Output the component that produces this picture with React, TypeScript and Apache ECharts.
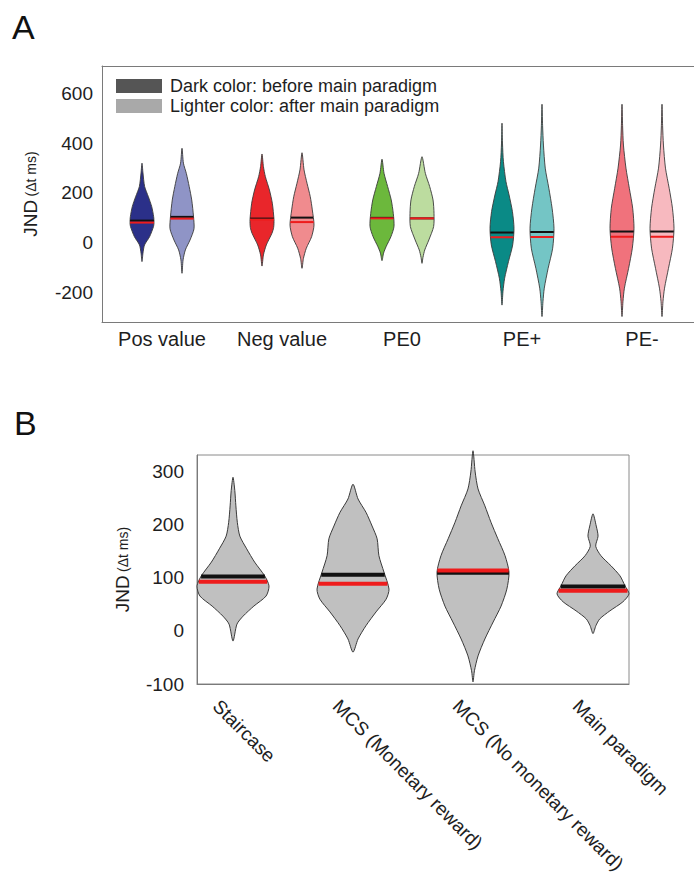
import React, { useEffect, useRef } from "react";
import * as echarts from "echarts";

type Pt = [number, number];

// ---------- Panel A data ----------
const groupsA = ["Pos value", "Neg value", "PE0", "PE+", "PE-"];
const legendLabels = ["Dark color: before main paradigm", "Lighter color: after main paradigm"];
const yTicksA = [-200, 0, 200, 400, 600];
const colorsBefore = ["#2b3089", "#e9262b", "#6cb83c", "#0a8a86", "#f0727c"];
const colorsAfter = ["#8f94c6", "#f08b8e", "#bcdc9f", "#74c5c5", "#f7b9bf"];
const meanBefore = [88, 96, 99, 40, 44];
const medianBefore = [80, 92, 97, 21, 23];
const meanAfter = [103, 100, 97, 42, 44];
const medianAfter = [96, 82, 97, 22, 23];

// violin outlines: [JND value, relative density]
const posBefore: Pt[] = [[319, 0], [280, 0.08], [225, 0.22], [184, 0.53], [144, 0.81], [104, 0.97], [80, 1], [64, 0.96], [23, 0.63], [-10, 0.21], [-43, 0.08], [-77, 0]];
const posAfter: Pt[] = [[379, 0], [319, 0.12], [278, 0.36], [225, 0.6], [171, 0.81], [104, 0.96], [55, 1], [10, 0.67], [-30, 0.28], [-70, 0.09], [-124, 0]];
const negBefore: Pt[] = [[356, 0], [305, 0.12], [265, 0.28], [211, 0.62], [158, 0.86], [91, 1], [60, 0.97], [37, 0.83], [-10, 0.36], [-50, 0.12], [-95, 0]];
const negAfter: Pt[] = [[361, 0], [292, 0.17], [238, 0.42], [184, 0.69], [131, 0.86], [70, 1], [23, 0.8], [-23, 0.36], [-64, 0.12], [-104, 0]];
const pe0Before: Pt[] = [[335, 0], [278, 0.17], [225, 0.47], [171, 0.77], [117, 0.94], [64, 1], [23, 0.74], [-17, 0.34], [-43, 0.13], [-73, 0]];
const pe0After: Pt[] = [[345, 0], [278, 0.28], [225, 0.64], [171, 0.92], [117, 1], [64, 0.97], [10, 0.57], [-30, 0.23], [-60, 0.08], [-84, 0]];
const pePlusBefore: Pt[] = [[480, 0], [400, 0.04], [325, 0.12], [245, 0.33], [191, 0.59], [124, 0.87], [57, 1], [-10, 0.89], [-77, 0.54], [-144, 0.22], [-198, 0.08], [-252, 0]];
const pePlusAfter: Pt[] = [[556, 0], [470, 0.05], [392, 0.12], [299, 0.27], [218, 0.57], [138, 0.84], [57, 1], [-23, 0.89], [-104, 0.51], [-184, 0.19], [-238, 0.08], [-298, 0]];
const peMinusBefore: Pt[] = [[556, 0], [470, 0.05], [392, 0.12], [299, 0.33], [218, 0.61], [138, 0.89], [57, 1], [-23, 0.86], [-104, 0.55], [-184, 0.2], [-238, 0.08], [-298, 0]];
const peMinusAfter: Pt[] = [[556, 0], [470, 0.05], [392, 0.12], [299, 0.29], [218, 0.6], [138, 0.87], [57, 1], [-23, 0.87], [-104, 0.54], [-184, 0.21], [-238, 0.08], [-298, 0]];

// ---------- Panel B data ----------
const categoriesB = ["Staircase", "MCS (Monetary reward)", "MCS (No monetary reward)", "Main paradigm"];
const yTicksB = [-100, 0, 100, 200, 300];
const meanB = [103, 106, 110, 84];
const medianB = [93, 89, 114, 76];
const staircase: Pt[] = [[290, 0], [265, 0.05], [236, 0.08], [205, 0.12], [179, 0.19], [155, 0.38], [130, 0.6], [104, 0.88], [85, 1], [66, 0.92], [47, 0.58], [28, 0.28], [13, 0.11], [-19, 0]];
const mcsMonetary: Pt[] = [[277, 0], [249, 0.14], [224, 0.36], [198, 0.53], [174, 0.67], [142, 0.72], [111, 0.86], [79, 1], [60, 0.92], [36, 0.64], [10, 0.36], [-15, 0.14], [-40, 0]];
const mcsNoMonetary: Pt[] = [[340, 0], [300, 0.06], [268, 0.14], [236, 0.33], [205, 0.5], [174, 0.69], [142, 0.89], [111, 1], [79, 0.94], [47, 0.78], [17, 0.56], [-15, 0.33], [-47, 0.14], [-75, 0.04], [-96, 0]];
const mainParadigm: Pt[] = [[221, 0], [198, 0.09], [179, 0.14], [160, 0.075], [142, 0.22], [123, 0.5], [104, 0.75], [85, 0.89], [70, 1], [55, 0.83], [38, 0.47], [23, 0.19], [10, 0.08], [-5, 0]];

const outlinesBefore = [posBefore, negBefore, pe0Before, pePlusBefore, peMinusBefore];
const outlinesAfter = [posAfter, negAfter, pe0After, pePlusAfter, peMinusAfter];
const outlinesB = [staircase, mcsMonetary, mcsNoMonetary, mainParadigm];

const FONT = "'Liberation Sans', Arial, Helvetica, sans-serif";

function densityAt(o: Pt[], v: number): number {
  for (let i = 0; i < o.length - 1; i++) {
    const [v0, d0] = o[i];
    const [v1, d1] = o[i + 1];
    if (v <= v0 && v >= v1) {
      const t = (v0 - v) / (v0 - v1 || 1);
      return d0 + (d1 - d0) * t;
    }
  }
  return 0;
}

function makeRender(outlines: Pt[][], fills: string[], half: number, lineW: number, strokeW: number) {
  return (params: any, api: any) => {
    const i = params.dataIndex;
    const x = api.value(0);
    const mean = api.value(1);
    const median = api.value(2);
    const o = outlines[i];
    const right = o.map(([v, d]) => api.coord([x + d * half, v]));
    const left = o
      .slice(1, o.length - 1)
      .reverse()
      .map(([v, d]) => api.coord([x - d * half, v]));
    const pts = right.concat(left);
    const mk = (v: number, color: string) => {
      const d = densityAt(o, v);
      const p0 = api.coord([x - d * half, v]);
      const p1 = api.coord([x + d * half, v]);
      return {
        type: "line",
        shape: { x1: p0[0], y1: p0[1], x2: p1[0], y2: p1[1] },
        style: { stroke: color, lineWidth: lineW },
      };
    };
    return {
      type: "group",
      children: [
        {
          type: "polygon",
          shape: { points: pts, smooth: 0.25 },
          style: { fill: fills[i], stroke: "#3a3a3a", lineWidth: strokeW },
        },
        mk(mean, "#111111"),
        mk(median, "#ee1c1c"),
      ],
    };
  };
}

const nameStyle = {
  color: "#1e1e1e",
  rich: {
    a: { fontSize: 19, fontFamily: FONT, color: "#1e1e1e" },
    b: { fontSize: 14, fontFamily: FONT, color: "#1e1e1e" },
  },
};

export default function App() {
  const ref = useRef<HTMLDivElement>(null);
  useEffect(() => {
    if (!ref.current) return;
    const chart = echarts.init(ref.current, undefined, { renderer: "svg" });

    const dataA: number[][] = [];
    const fillsA: string[] = [];
    const outlinesA: Pt[][] = [];
    groupsA.forEach((_, g) => {
      dataA.push([3 * g + 1, meanBefore[g], medianBefore[g]]);
      fillsA.push(colorsBefore[g]);
      outlinesA.push(outlinesBefore[g]);
      dataA.push([3 * g + 2, meanAfter[g], medianAfter[g]]);
      fillsA.push(colorsAfter[g]);
      outlinesA.push(outlinesAfter[g]);
    });
    const dataB = categoriesB.map((_, i) => [i + 1, meanB[i], medianB[i]]);
    const fillsB = categoriesB.map(() => "#c0c0c0");

    const labelStyle = { fontFamily: FONT, color: "#1e1e1e" };
    const lineStyle = { color: "#7a7a7a", width: 1 };

    chart.setOption({
      animation: false,
      backgroundColor: "#ffffff",
      textStyle: { fontFamily: FONT },
      grid: [
        { left: 102, top: 66, right: 0, height: 256, show: false },
        { left: 197, top: 455, width: 432, height: 229, show: true, borderColor: "#8a8a8a", borderWidth: 1 },
      ],
      xAxis: [
        {
          gridIndex: 0,
          type: "value",
          min: 0,
          max: 14.8,
          axisLine: { show: true, onZero: false, lineStyle },
          axisTick: { show: false },
          splitLine: { show: false },
          axisLabel: {
            ...labelStyle,
            customValues: groupsA.map((_, g) => 3 * g + 1.5),
            formatter: (v: number) => groupsA[Math.round((v - 1.5) / 3)] ?? "",
            fontSize: 20,
            margin: 7,
          },
        },
        {
          gridIndex: 0,
          type: "value",
          position: "top",
          min: 0,
          max: 14.8,
          axisLine: { show: true, onZero: false, lineStyle },
          axisTick: { show: false },
          splitLine: { show: false },
          axisLabel: { show: false },
        },
        {
          gridIndex: 1,
          type: "value",
          min: 0.7,
          max: 4.3,
          axisLine: { show: true, onZero: false, lineStyle },
          axisTick: { show: false },
          splitLine: { show: false },
          axisLabel: { show: false },
        },
        {
          gridIndex: 1,
          type: "value",
          position: "bottom",
          min: 0.84,
          max: 4.44,
          axisLine: { show: false },
          axisTick: { show: false },
          splitLine: { show: false },
          axisLabel: {
            ...labelStyle,
            customValues: categoriesB.map((_, i) => i + 1),
            formatter: (v: number) => categoriesB[Math.round(v) - 1] ?? "",
            rotate: -45,
            fontSize: 19,
            margin: 19,
          },
        },
      ],
      yAxis: [
        {
          gridIndex: 0,
          type: "value",
          min: -320,
          max: 710,
          axisLine: { show: true, onZero: false, lineStyle },
          axisTick: { show: false },
          splitLine: { show: false },
          axisLabel: { ...labelStyle, customValues: yTicksA, fontSize: 19, margin: 9 },
          name: "{a|JND} {b|(Δt ms)}",
          nameLocation: "middle",
          nameRotate: 90,
          nameGap: 62,
          nameTextStyle: nameStyle,
        },
        {
          gridIndex: 1,
          type: "value",
          min: -100,
          max: 332,
          axisLine: { show: true, onZero: false, lineStyle },
          axisTick: { show: false },
          splitLine: { show: false },
          axisLabel: { ...labelStyle, customValues: yTicksB, fontSize: 19, margin: 13 },
          name: "{a|JND} {b|(Δt ms)}",
          nameLocation: "middle",
          nameRotate: 90,
          nameGap: 65,
          nameTextStyle: nameStyle,
        },
      ],
      series: [
        {
          type: "custom",
          xAxisIndex: 0,
          yAxisIndex: 0,
          data: dataA,
          renderItem: makeRender(outlinesA, fillsA, 0.3, 2, 0.9),
        },
        {
          type: "custom",
          xAxisIndex: 2,
          yAxisIndex: 1,
          data: dataB,
          renderItem: makeRender(outlinesB, fillsB, 0.3, 4, 1),
        },
      ],
      graphic: [
        { type: "text", left: 12, top: 10, style: { text: "A", fontSize: 34, fontFamily: FONT, fill: "#111" } },
        { type: "text", left: 14, top: 406, style: { text: "B", fontSize: 34, fontFamily: FONT, fill: "#111" } },
        { type: "rect", shape: { x: 116, y: 79, width: 46, height: 14 }, style: { fill: "#555555" } },
        { type: "rect", shape: { x: 116, y: 99, width: 46, height: 14 }, style: { fill: "#a9a9a9" } },
        { type: "text", x: 170, y: 86, style: { text: legendLabels[0], fontSize: 18, fontFamily: FONT, fill: "#1e1e1e", verticalAlign: "middle" } },
        { type: "text", x: 170, y: 106, style: { text: legendLabels[1], fontSize: 18, fontFamily: FONT, fill: "#1e1e1e", verticalAlign: "middle" } },
      ],
    });
    return () => chart.dispose();
  }, []);
  return (
    <div
      ref={ref}
      style={{ position: "absolute", left: 0, top: 0, width: 694, height: 881, background: "#fff" }}
    />
  );
}
